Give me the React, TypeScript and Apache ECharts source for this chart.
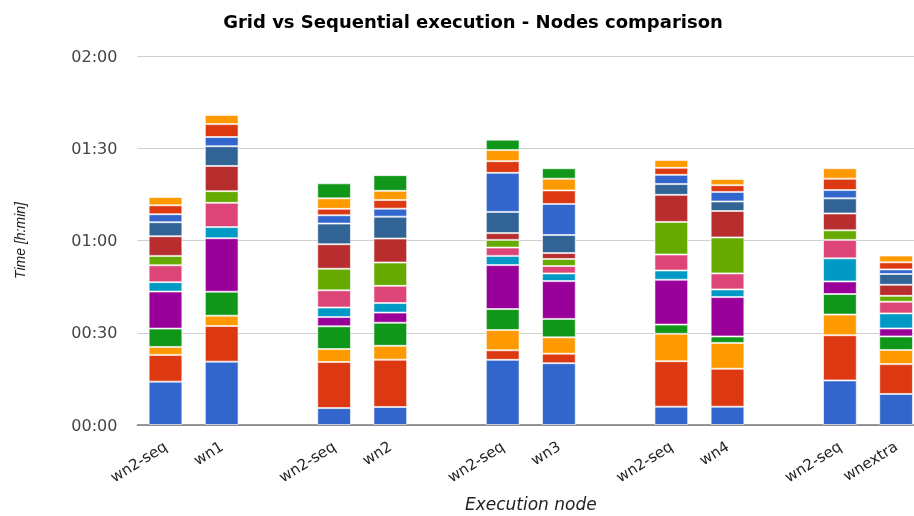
import React, { useEffect, useRef } from "react";
import * as echarts from "echarts";

const barNames = ["wn2-seq", "wn1", "wn2-seq", "wn2", "wn2-seq", "wn3", "wn2-seq", "wn4", "wn2-seq", "wnextra"];
// empty slot after each pair
const categories = ["wn2-seq", "wn1", "", "wn2-seq", "wn2", " ", "wn2-seq", "wn3", "  ", "wn2-seq", "wn4", "   ", "wn2-seq", "wnextra"];
const yTicks = [0, 30, 60, 90, 120];

// minutes per task, one value per bar (order of barNames)
const task1 = [14.1, 20.6, 5.5, 5.85, 21.2, 20.1, 5.95, 5.95, 14.5, 10.1];
const task2 = [8.7, 11.6, 15.0, 15.4, 3.1, 3.1, 14.8, 12.35, 14.7, 9.7];
const task3 = [2.6, 3.35, 4.2, 4.5, 6.6, 5.3, 8.9, 8.4, 6.7, 4.6];
const task4 = [5.95, 7.8, 7.4, 7.5, 6.8, 6.0, 3.0, 2.1, 6.7, 4.4];
const task5 = [12.05, 17.4, 3.0, 3.3, 14.3, 12.3, 14.6, 12.8, 4.1, 2.6];
const task6 = [3.05, 3.6, 3.1, 3.1, 3.0, 2.5, 3.0, 2.5, 7.5, 4.9];
const task7 = [5.5, 7.9, 5.6, 5.6, 2.7, 2.4, 5.2, 5.2, 6.0, 3.8];
const task8 = [3.05, 3.8, 7.0, 7.6, 2.5, 2.3, 10.6, 11.7, 3.1, 1.9];
const task9 = [6.4, 8.2, 8.0, 7.8, 2.2, 1.9, 8.8, 8.6, 5.5, 3.6];
const task10 = [4.55, 6.4, 6.7, 7.1, 6.9, 5.9, 3.5, 3.1, 4.9, 3.5];
const task11 = [2.6, 3.0, 2.7, 2.6, 12.7, 10.1, 3.0, 3.1, 2.7, 1.5];
const task12 = [2.9, 4.2, 2.1, 2.8, 3.8, 4.4, 2.3, 2.2, 3.7, 2.3];
const task13 = [2.7, 3.0, 3.4, 3.0, 3.6, 3.8, 2.5, 2.0, 3.4, 2.2];
const task14 = [0, 0, 4.9, 5.1, 3.4, 3.4, 0, 0, 0, 0];

const tasks = [task1, task2, task3, task4, task5, task6, task7, task8, task9, task10, task11, task12, task13, task14];
const colors = [
  "#3366cc", "#dc3912", "#ff9900", "#109618", "#990099", "#0099c6", "#dd4477",
  "#66aa00", "#b82e2e", "#316395", "#3366cc", "#dc3912", "#ff9900", "#109618",
];

// map bar index -> category index (skipping gap slots)
const barSlots = [0, 1, 3, 4, 6, 7, 9, 10, 12, 13];

function fmt(v: number) {
  const h = Math.floor(v / 60);
  const m = Math.round(v % 60);
  return String(h).padStart(2, "0") + ":" + String(m).padStart(2, "0");
}

export default function App() {
  const ref = useRef<HTMLDivElement>(null);
  useEffect(() => {
    if (!ref.current) return;
    const chart = echarts.init(ref.current, null, { renderer: "svg" });
    const series = tasks.map((arr, i) => {
      const data: (number | null)[] = categories.map(() => null);
      arr.forEach((v, b) => {
        data[barSlots[b]] = v > 0 ? v : null;
      });
      return {
        name: "Task " + (i + 1),
        type: "bar" as const,
        stack: "total",
        barWidth: "60%",
        data,
        itemStyle: { color: colors[i], borderColor: "rgba(255,255,255,0.6)", borderWidth: 1 },
      };
    });
    chart.setOption({
      animation: false,
      title: {
        text: "Grid vs Sequential execution - Nodes comparison",
        left: 468,
        top: 7,
        textAlign: "center",
        textStyle: { fontFamily: "DejaVu Sans", fontSize: 18, fontWeight: "bold", color: "#000" },
      },
      grid: {
        left: 137.4,
        right: -10.2,
        top: 56,
        bottom: 91,
        containLabel: false,
        outerBoundsMode: "none",
      },
      xAxis: {
        type: "category",
        data: categories,
        name: "Execution node",
        nameLocation: "middle",
        nameGap: 70,
        nameTextStyle: { fontFamily: "DejaVu Sans", fontSize: 17, fontStyle: "italic", color: "#222" },
        axisLine: { lineStyle: { color: "#777", width: 1.5 } },
        axisTick: { show: false },
        axisLabel: {
          interval: 0,
          rotate: 32,
          margin: 20,
          fontFamily: "DejaVu Sans",
          fontSize: 15,
          color: "#222",
        },
      },
      yAxis: {
        type: "value",
        min: 0,
        max: 120,
        interval: 30,
        name: "Time [h:min]",
        nameLocation: "middle",
        nameGap: 110,
        nameTextStyle: { fontFamily: "Liberation Sans", fontSize: 14, fontStyle: "italic", color: "#222" },
        axisLine: { show: false },
        axisTick: { show: false },
        splitLine: { lineStyle: { color: "#d0d0d0", width: 1 } },
        axisLabel: {
          margin: 20,
          fontFamily: "DejaVu Sans",
          fontSize: 16,
          color: "#444",
          formatter: (v: number) => fmt(v),
        },
      },
      series,
    });
    return () => chart.dispose();
  }, []);
  return <div ref={ref} style={{ position: "fixed", left: 0, top: 0, width: 914, height: 516 }} />;
}

export { barNames, yTicks };
